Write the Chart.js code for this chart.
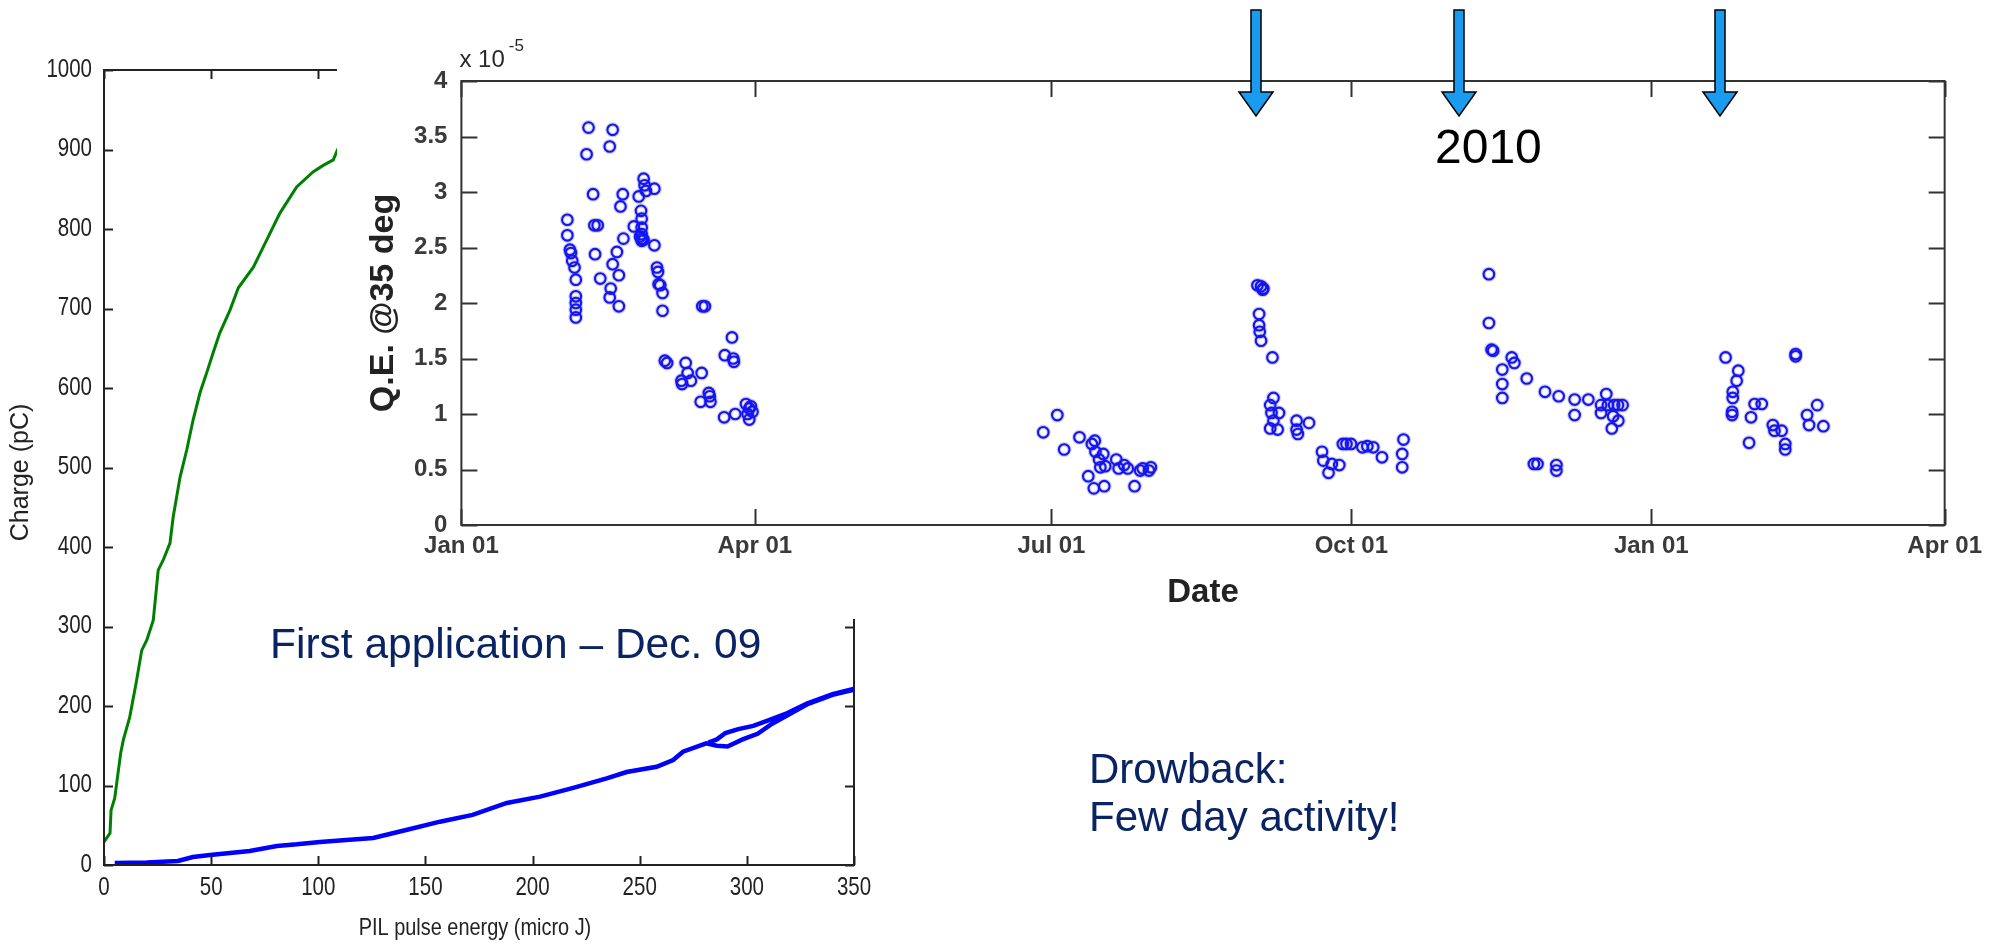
<!DOCTYPE html>
<html>
<head>
<meta charset="utf-8">
<script src="https://cdn.jsdelivr.net/npm/chart.js@4.4.1/dist/chart.umd.min.js"></script>
<style>
html,body{margin:0;padding:0;background:#fff;}
body{width:1989px;height:945px;overflow:hidden;position:relative;font-family:'Liberation Sans',Arial,sans-serif;}
#wrapA{position:absolute;left:0;top:0;width:900px;height:945px;}
#wrapB{position:absolute;left:337px;top:0;width:1652px;height:619px;background:#fff;}
.txt{position:absolute;color:#0a2463;font-size:42px;line-height:48px;white-space:nowrap;}
#arrows{position:absolute;left:0;top:0;}
</style>
</head>
<body>
<div id="wrapA"><canvas id="cA" width="900" height="945"></canvas></div>
<div id="wrapB"><canvas id="cB" width="1652" height="619"></canvas></div>
<svg id="arrows" width="1989" height="945"></svg>
<div class="txt" style="left:270px;top:620px;font-size:42.5px;">First application – Dec. 09</div>
<div class="txt" style="left:1089px;top:745px;">Drowback:<br>Few day activity!</div>
<div class="txt" style="left:1435px;top:119px;font-size:48px;line-height:55px;color:#000;">2010</div>
<script>
// ---------- Left chart data (Charge vs PIL pulse energy) ----------
const energyGreen = [0, 2.8, 3.3, 5, 7.8, 9, 12, 15, 17.6, 20, 23, 25.3, 27.7, 30.8, 32.3, 35.5, 38.6, 41.6, 44.8, 47.9, 50.9, 54, 58.8, 62.7, 69.7, 75.9, 82.1, 89.9, 97.7, 102.3, 107, 109, 112];
const chargeGreen = [29, 40, 69, 84, 141, 157, 186, 229, 270, 283, 308, 371, 384, 405, 438, 488, 522, 560, 594, 619, 644, 669, 698, 726, 752, 786, 820, 853, 872, 880, 887, 900, 905];

const energyBlue = [5, 20, 34.5, 41.5, 49.5, 58.8, 68, 80.7, 90, 100.8, 111.5, 125.6, 141, 156.8, 172, 188, 203.5, 219, 234.6, 243.9, 257.9, 265.6, 270.2, 281, 286, 291, 298, 305, 312, 320, 328, 340, 349, 349, 340, 328, 318, 310, 303, 296, 290, 286, 282];
const chargeBlue  = [2.5, 3, 5, 10, 12.6, 15, 17.6, 24, 26, 29, 31, 34, 44, 54.5, 63, 78, 86, 97, 109, 117, 123.5, 132, 142.5, 153, 150, 149, 158, 165, 178, 190, 202, 214, 220, 221, 215, 203, 190, 182, 175, 171, 166, 158, 154];

const energyTicks = [0, 50, 100, 150, 200, 250, 300, 350];
const chargeTicks = [0, 100, 200, 300, 400, 500, 600, 700, 800, 900, 1000];

// ---------- Right chart data (Q.E. vs date, days since Jan 01) ----------
const qeDays = [
  32.5, 32.5, 33.3, 33.6, 34, 34.7, 35.1, 35.1, 35.1, 35.1, 35.1,
  39, 38.4, 40.4, 40.8, 41.8, 41, 42.6, 45.5, 46.4, 45.8, 45.5, 46.4, 47.7, 48.3, 48.3, 48.8, 49.5, 49.7,
  52.9, 54.4, 55.1, 55.3, 55.3, 55.3, 55.3, 55.3, 55.9, 56.2, 56.6, 54.8, 55.9,
  59.2, 59.2, 60, 60.3, 60.5, 61, 61.7, 61.7, 62.4, 63.1,
  67.5, 67.7, 68.8, 69.4, 70.4, 73.7, 73.9, 74.7, 73.4, 75.9, 76.4, 76.2,
  80.6, 80.8, 83, 83.4, 83.6, 84, 87.3, 88.3, 87.8, 88.3, 88.8, 89.3,
  178.5, 182.8, 184.9, 189.6, 192.3, 193.4, 194.3, 194, 194.5, 195.6, 196, 196.9, 197.2, 197.5,
  200.9, 201.6, 203.3, 204.4, 206.5, 208.2, 209, 210.9, 211.5,
  244.2, 245.3, 245.8, 246, 244.7, 244.7, 244.9, 245.3, 248.8, 249.1, 248.1, 248.5, 249.1, 248.1, 250.8, 250.4,
  256.2, 256.2, 256.6, 260, 264, 264.4, 266, 267, 269.3, 270.4, 271.5, 272.9, 276.4, 277.9, 279.7, 282.4, 289, 288.6, 288.6,
  315.2, 315.2, 316, 316.5, 319.3, 319.3, 319.3, 322.2, 323, 326.8, 332.4, 336.6,
  329, 330.1, 335.9, 335.9, 341.5, 341.5, 345.7, 349.6, 351.2, 352.9, 349.6, 351.7, 353.6, 354.8, 356.2, 353.3, 354.9,
  387.8, 391.7, 391.2, 390, 390, 389.8, 389.8, 395, 395.6, 396.7, 398.9, 402.3, 402.8, 405, 406.1, 406.1,
  409.3, 409.3, 412.8, 413.4, 415.9, 417.8
];
const qeValues = [
  2.75, 2.61, 2.48, 2.45, 2.38, 2.32, 2.21, 2.06, 2.00, 1.94, 1.87,
  3.58, 3.34, 2.98, 2.70, 2.70, 2.44, 2.22, 3.41, 3.56, 2.13, 2.05, 2.35, 2.46, 2.25, 1.97, 2.87, 2.98, 2.58,
  2.69, 2.96, 2.83, 2.76, 2.68, 2.62, 2.58, 2.56, 3.12, 3.06, 3.01, 2.60, 2.57,
  3.03, 2.52, 2.32, 2.28, 2.17, 2.16, 2.09, 1.93, 1.48, 1.46,
  1.30, 1.27, 1.46, 1.37, 1.30, 1.37, 1.97, 1.97, 1.11, 1.19, 1.11, 1.16,
  0.97, 1.53, 1.69, 1.50, 1.47, 1.00, 1.09, 1.05, 1.00, 0.95, 1.07, 1.02,
  0.835, 0.99, 0.68, 0.79, 0.44, 0.73, 0.76, 0.33, 0.66, 0.59, 0.52, 0.64, 0.35, 0.53,
  0.59, 0.51, 0.54, 0.51, 0.35, 0.49, 0.51, 0.49, 0.52,
  2.16, 2.15, 2.12, 2.13, 1.90, 1.80, 1.74, 1.66, 1.51, 1.145, 1.08, 1.01, 0.94, 0.87, 1.01, 0.86,
  0.94, 0.86, 0.82, 0.92, 0.66, 0.58, 0.47, 0.55, 0.54, 0.73, 0.73, 0.73, 0.70, 0.71, 0.70, 0.61, 0.77, 0.64, 0.52,
  2.26, 1.82, 1.58, 1.57, 1.40, 1.27, 1.145, 1.51, 1.46, 1.32, 1.20, 1.16,
  0.55, 0.55, 0.54, 0.49, 1.13, 0.99, 1.13, 1.08, 1.18, 0.87, 1.01, 1.08, 1.08, 1.08, 1.08, 0.98, 0.94,
  1.51, 1.39, 1.30, 1.20, 1.145, 1.02, 0.99, 0.74, 0.97, 1.09, 1.09, 0.90, 0.85, 0.85, 0.73, 0.68,
  1.54, 1.52, 0.99, 0.90, 1.08, 0.89
];
const qeTicks = [0, 0.5, 1, 1.5, 2, 2.5, 3, 3.5, 4];
const qeTickLabels = ['0', '0.5', '1', '1.5', '2', '2.5', '3', '3.5', '4'];
const dateTicks = [0, 90, 181, 273, 365, 455];
const dateTickLabels = ['Jan 01', 'Apr 01', 'Jul 01', 'Oct 01', 'Jan 01', 'Apr 01'];

// annotation arrows (page x positions)
const arrowX = [1256, 1459, 1720];

// ---------- helpers ----------
const SANS = "'Liberation Sans',Arial,sans-serif";

const matlabFrame = {
  id: 'matlabFrame',
  afterDraw(chart, args, o) {
    const {ctx, chartArea: {left, right, top, bottom}} = chart;
    const xs = chart.scales.x, ys = chart.scales.y;
    ctx.save();
    ctx.strokeStyle = o.color;
    ctx.lineWidth = o.lineWidth;
    ctx.beginPath();
    xs.ticks.forEach(t => {
      const p = Math.round(xs.getPixelForValue(t.value)) + 0.5;
      ctx.moveTo(p, bottom); ctx.lineTo(p, bottom - o.len);
      ctx.moveTo(p, top); ctx.lineTo(p, top + o.len);
    });
    ys.ticks.forEach(t => {
      const p = Math.round(ys.getPixelForValue(t.value)) + 0.5;
      ctx.moveTo(left, p); ctx.lineTo(left + o.len, p);
      ctx.moveTo(right, p); ctx.lineTo(right - o.len, p);
    });
    ctx.stroke();
    ctx.strokeRect(left, top, right - left, bottom - top);
    ctx.restore();
  }
};

// condensed (MATLAB-like) tick labels and axis titles for the left figure
const narrowText = {
  id: 'narrowText',
  afterDraw(chart, args, o) {
    const {ctx, chartArea: {left, right, top, bottom}} = chart;
    const xs = chart.scales.x, ys = chart.scales.y;
    const put = (txt, x, y, sx, rot) => {
      ctx.save(); ctx.translate(x, y); if (rot) ctx.rotate(rot); ctx.scale(sx, 1); ctx.fillText(txt, 0, 0); ctx.restore();
    };
    ctx.save();
    ctx.fillStyle = o.color;
    ctx.font = o.tickSize + 'px ' + SANS;
    ctx.textAlign = 'right'; ctx.textBaseline = 'middle';
    ys.ticks.forEach(t => put(String(t.value), left - o.yPad, ys.getPixelForValue(t.value), o.squeeze));
    ctx.textAlign = 'center'; ctx.textBaseline = 'middle';
    xs.ticks.forEach(t => put(String(t.value), xs.getPixelForValue(t.value), bottom + o.xPad, o.squeeze));
    ctx.font = o.xTitleSize + 'px ' + SANS;
    put(o.xTitle, (left + right) / 2 + o.xTitleDx, o.xTitleY, o.xTitleSqueeze);
    ctx.font = o.yTitleSize + 'px ' + SANS;
    put(o.yTitle, o.yTitleX, (top + bottom) / 2 + o.yTitleDy, o.yTitleSqueeze, -Math.PI / 2);
    ctx.restore();
  }
};

const expLabel = {
  id: 'expLabel',
  afterDraw(chart, args, o) {
    if (!o.text) return;
    const {ctx, chartArea} = chart;
    ctx.save();
    ctx.fillStyle = '#2a2a2a';
    ctx.font = '24px ' + SANS;
    ctx.textBaseline = 'alphabetic';
    const x0 = chartArea.left - 2;
    ctx.fillText(o.text, x0, chartArea.top - 14);
    const w = ctx.measureText(o.text).width;
    ctx.font = '17px ' + SANS;
    ctx.fillText(o.exp, x0 + w + 4, chartArea.top - 30);
    ctx.restore();
  }
};

const zip = (xs, ys) => xs.map((x, i) => ({x, y: ys[i]}));
const qePoints = zip(qeDays, qeValues);

// ---------- Left chart ----------
new Chart(document.getElementById('cA'), {
  type: 'scatter',
  data: {
    datasets: [
      {data: zip(energyGreen, chargeGreen), showLine: true, borderColor: 'rgb(0,128,0)', borderWidth: 3, pointRadius: 0, tension: 0},
      {data: zip(energyBlue, chargeBlue), showLine: true, borderColor: 'rgb(0,0,255)', borderWidth: 4.5, pointRadius: 0, tension: 0}
    ]
  },
  plugins: [matlabFrame, narrowText],
  options: {
    responsive: false, animation: false, devicePixelRatio: 1,
    layout: {padding: {top: 70, right: 46, left: 0, bottom: 0}},
    plugins: {
      legend: {display: false}, tooltip: {enabled: false},
      matlabFrame: {len: 9, color: '#222', lineWidth: 2},
      narrowText: {
        color: '#222', tickSize: 25, squeeze: 0.82, yPad: 12, xPad: 23,
        xTitle: 'PIL pulse energy (micro J)', xTitleSize: 24, xTitleSqueeze: 0.83, xTitleDx: -4, xTitleY: 928,
        yTitle: 'Charge (pC)', yTitleSize: 25, yTitleSqueeze: 1.0, yTitleX: 21, yTitleDy: 5
      }
    },
    scales: {
      x: {
        type: 'linear', min: 0, max: 350,
        afterBuildTicks: s => { s.ticks = energyTicks.map(v => ({value: v})); },
        afterFit: s => { s.height = 80; },
        ticks: {display: false},
        grid: {display: false, drawTicks: false}, border: {display: false}
      },
      y: {
        type: 'linear', min: 0, max: 1000,
        afterBuildTicks: s => { s.ticks = chargeTicks.map(v => ({value: v})); },
        afterFit: s => { s.width = 104; },
        ticks: {display: false},
        grid: {display: false, drawTicks: false}, border: {display: false}
      }
    }
  }
});

// ---------- Right chart ----------
new Chart(document.getElementById('cB'), {
  type: 'scatter',
  data: {
    datasets: [
      {
        data: qePoints, order: 2,
        pointStyle: 'circle', pointRadius: 5.3, pointBorderWidth: 4.4,
        borderColor: 'rgba(150,150,190,0.45)', backgroundColor: 'rgba(0,0,0,0)', pointHoverRadius: 5.3
      },
      {
        data: qePoints, order: 1,
        pointStyle: 'circle', pointRadius: 5.3, pointBorderWidth: 2.1,
        borderColor: 'rgb(20,20,250)', backgroundColor: 'rgba(0,0,0,0)', pointHoverRadius: 5.3
      }
    ]
  },
  plugins: [matlabFrame, expLabel],
  options: {
    responsive: false, animation: false, devicePixelRatio: 1,
    layout: {padding: {top: 81, right: 39, left: 0, bottom: 0}},
    plugins: {legend: {display: false}, tooltip: {enabled: false},
      matlabFrame: {len: 16, color: '#333', lineWidth: 2},
      expLabel: {text: 'x 10', exp: '-5'}},
    scales: {
      x: {
        type: 'linear', min: 0, max: 455,
        afterBuildTicks: s => { s.ticks = dateTicks.map(v => ({value: v})); },
        afterFit: s => { s.height = 94; },
        ticks: {callback: (v, i) => dateTickLabels[i], font: {family: SANS, size: 24, weight: 'bold'}, color: '#3a3a3a', padding: 7, maxRotation: 0, autoSkip: false},
        grid: {display: false, drawTicks: false}, border: {display: false},
        title: {display: true, text: 'Date', font: {family: SANS, size: 33, weight: 'bold'}, color: '#222', padding: {top: 0, bottom: 6}}
      },
      y: {
        type: 'linear', min: 0, max: 4,
        afterBuildTicks: s => { s.ticks = qeTicks.map(v => ({value: v})); },
        afterFit: s => { s.width = 124.4; },
        ticks: {callback: (v, i) => qeTickLabels[i], font: {family: SANS, size: 24, weight: 'bold'}, color: '#3a3a3a', padding: 14, autoSkip: false},
        grid: {display: false, drawTicks: false}, border: {display: false},
        title: {display: true, text: 'Q.E. @35 deg', font: {family: SANS, size: 34, weight: 'bold'}, color: '#222', padding: {top: 26, bottom: 0}}
      }
    }
  }
});

// ---------- annotation arrows ----------
const svg = document.getElementById('arrows');
arrowX.forEach(cx => {
  const pts = [[cx-5,10],[cx+5,10],[cx+5,92],[cx+17,92],[cx,116],[cx-17,92],[cx-5,92]].map(p => p.join(',')).join(' ');
  const poly = document.createElementNS('http://www.w3.org/2000/svg', 'polygon');
  poly.setAttribute('points', pts);
  poly.setAttribute('fill', '#199cf0');
  poly.setAttribute('stroke', '#000');
  poly.setAttribute('stroke-width', '1.5');
  svg.appendChild(poly);
});
</script>
</body>
</html>
